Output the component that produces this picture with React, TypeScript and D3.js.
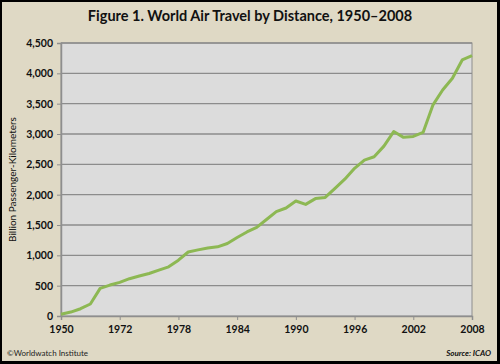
import React, { useEffect, useRef } from 'react';
import * as d3 from 'd3';

// categories (the source uses 5-year steps before 1970, then yearly)
const years = [
  1950, 1955, 1960, 1965, 1970, 1971, 1972, 1973, 1974, 1975, 1976, 1977, 1978, 1979,
  1980, 1981, 1982, 1983, 1984, 1985, 1986, 1987, 1988, 1989, 1990, 1991, 1992, 1993,
  1994, 1995, 1996, 1997, 1998, 1999, 2000, 2001, 2002, 2003, 2004, 2005, 2006, 2007, 2008,
];

// billion passenger-km
const travel = [
  28, 65, 120, 198, 456, 510, 555, 615, 660, 700, 755, 810, 920, 1055,
  1090, 1120, 1140, 1195, 1295, 1385, 1460, 1590, 1720, 1780, 1895, 1840, 1935, 1955,
  2105, 2255, 2435, 2570, 2625, 2800, 3040, 2945, 2960, 3025, 3475, 3725, 3920, 4220, 4290,
];

const xTickLabels = [1950, 1972, 1978, 1984, 1990, 1996, 2002, 2008];
const yTicks = [0, 500, 1000, 1500, 2000, 2500, 3000, 3500, 4000, 4500];

const W = 500;
const H = 364;
const font = "Lato, 'DejaVu Sans', sans-serif";

export default function App() {
  const ref = useRef<SVGSVGElement>(null);

  useEffect(() => {
    const svg = d3.select(ref.current);
    svg.selectAll('*').remove();

    const left = 61, right = 472, top = 43, bottom = 316;

    const x = d3.scalePoint<number>().domain(years).range([left, right]).padding(0);
    const y = d3.scaleLinear().domain([0, 4500]).range([bottom, top]);

    // frame
    svg.append('rect').attr('x', 0).attr('y', 0).attr('width', W).attr('height', H).attr('fill', '#000');
    svg.append('rect').attr('x', 2).attr('y', 2).attr('width', W - 5).attr('height', H - 5).attr('fill', '#dfd9c5');

    svg.append('text')
      .attr('x', 250).attr('y', 21)
      .attr('text-anchor', 'middle')
      .style('font-family', font).style('font-weight', 'bold').style('font-size', '14.5px')
      .attr('fill', '#111')
      .text('Figure 1. World Air Travel by Distance, 1950\u20132008');

    // plot area
    svg.append('rect')
      .attr('x', left).attr('y', top).attr('width', right - left).attr('height', bottom - top)
      .attr('fill', '#dcdcdc').attr('stroke', '#8e8e8e').attr('stroke-width', 1);

    svg.append('g').selectAll('line').data(yTicks.slice(1)).join('line')
      .attr('x1', left).attr('x2', right)
      .attr('y1', d => y(d)).attr('y2', d => y(d))
      .attr('stroke', '#8c8c8c').attr('stroke-width', 1.3);

    // axes
    const yAxis = svg.append('g').attr('transform', `translate(${left},0)`)
      .call(d3.axisLeft(y).tickValues(yTicks).tickSize(4).tickFormat(d3.format(',')));
    const xAxis = svg.append('g').attr('transform', `translate(0,${bottom})`)
      .call(d3.axisBottom(x).tickValues(xTickLabels).tickSize(4).tickPadding(6));

    [yAxis, xAxis].forEach(a => {
      a.select('.domain').attr('stroke', '#8e8e8e').attr('stroke-width', 1.5);
      a.selectAll('.tick line').attr('stroke', '#8e8e8e');
      a.selectAll('.tick text')
        .attr('fill', '#111')
        .style('font-family', font).style('font-weight', 'bold').style('font-size', '10.5px');
    });
    yAxis.selectAll('.tick text').attr('x', -8);

    svg.append('text')
      .attr('transform', `translate(16,${(top + bottom) / 2}) rotate(-90)`)
      .attr('text-anchor', 'middle')
      .style('font-family', font).style('font-size', '10px')
      .attr('fill', '#111')
      .text('Billion Passenger-Kilometers');

    // series
    const line = d3.line<number>()
      .x((_, i) => x(years[i]) as number)
      .y(d => y(d));

    svg.append('path')
      .datum(travel)
      .attr('d', line)
      .attr('fill', 'none')
      .attr('stroke', '#8db853')
      .attr('stroke-width', 3)
      .attr('stroke-linejoin', 'round');

    // footer
    svg.append('text')
      .attr('x', 7).attr('y', 356)
      .style('font-family', font).style('font-size', '8px')
      .attr('fill', '#222')
      .text('\u00a9Worldwatch Institute');

    svg.append('text')
      .attr('x', 491).attr('y', 356)
      .attr('text-anchor', 'end')
      .style('font-family', font).style('font-size', '8px')
      .style('font-weight', 'bold').style('font-style', 'italic')
      .attr('fill', '#111')
      .text('Source: ICAO');
  }, []);

  return (
    <svg
      ref={ref}
      width={W}
      height={H}
      style={{ position: 'absolute', left: 0, top: 0, display: 'block' }}
    />
  );
}
